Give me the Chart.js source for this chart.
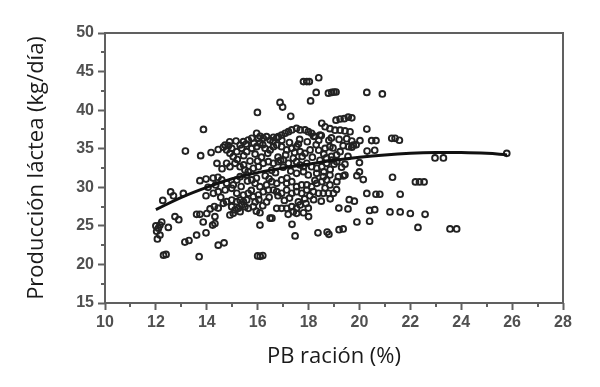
<!DOCTYPE html>
<html>
<head>
<meta charset="utf-8">
<script src="https://cdn.jsdelivr.net/npm/chart.js@4.4.1/dist/chart.umd.min.js"></script>
<style>
  html, body { margin: 0; padding: 0; background: #ffffff; }
  #c { display: block; }
</style>
</head>
<body>
<canvas id="c" width="600" height="387"></canvas>
<script>
// ---- data ----
const xTitle = 'PB ración (%)';
const yTitle = 'Producción láctea (kg/día)';

const proteinPct = [
  // top / isolated
  17.8,17.93,18.03,18.4,18.3,18.08,18.78,18.91,19.0,19.08,20.29,20.9,16.88,16.98,15.99,17.3,13.87,13.16,13.76,14.17,
  // upper right cluster
  19.08,19.24,19.4,19.56,19.7,18.52,18.65,18.84,19.04,19.24,19.43,19.63,20.29,20.48,20.65,21.27,21.4,21.57,20.02,19.87,20.6,20.3,19.43,20.0,21.3,20.0,19.9,20.15,22.2,22.36,22.54,22.97,23.3,25.79,
  // lower right
  20.29,20.65,20.8,21.6,19.8,19.19,19.55,20.4,20.6,21.2,21.6,22.0,22.58,19.9,20.4,22.3,23.56,23.82,19.2,19.36,18.37,18.73,18.8,17.47,17.35,18.0,17.99,16.49,16.09,16.09,16.35,16.56,19.6,
  // lower left
  16.0,16.1,16.2,13.7,12.3,12.4,13.14,13.3,13.6,13.97,14.45,14.68,12.06,12.16,12.1,12.16,12.23,12.03,12.0,12.49,12.75,12.9,12.27,12.58,12.69,13.08,13.86,13.6,13.73,14.0,14.23,14.32,13.97,14.13,14.3,14.45,14.32,
  // upper part of the main cloud
  13.73,13.97,14.25,14.44,14.45,14.65,14.85,14.72,14.98,15.31,15.44,15.63,15.77,15.96,16.03,16.1,16.22,16.35,16.49,16.62,16.75,16.81,16.94,17.08,17.21,17.34,17.53,17.67,17.86,17.99,18.12,18.25,18.4,18.45,18.2,18.5,18.9,19.2,19.5,19.7,18.96,19.36,19.7,18.45,18.7,18.9,19.1,18.4,
  // band 34-35.5
  14.78,14.91,15.04,15.18,15.37,15.57,15.77,15.96,16.09,16.29,16.49,16.62,16.75,16.94,17.14,17.34,17.53,17.67,17.86,18.06,18.65,18.84,19.24,19.57,19.76,
  // band 31.5-34
  14.78,14.91,15.11,15.31,15.5,15.63,15.83,16.03,16.22,16.42,16.62,16.81,17.01,17.21,17.4,17.53,17.67,17.8,17.93,18.12,18.32,18.52,18.71,18.91,19.11,17.53,17.8,17.99,18.32,18.58,18.84,19.17,19.43,16.8,17.1,16.9,
  // band 30-31.5
  14.59,14.78,15.04,15.18,15.31,15.57,15.77,15.9,16.09,16.35,16.55,16.75,16.94,17.14,17.34,17.53,17.73,17.93,18.12,18.32,18.52,18.71,18.84,19.11,19.37,
  // band 28.5-30
  14.26,14.45,14.72,14.98,15.18,15.44,15.63,15.83,16.03,16.22,16.42,16.62,16.75,16.94,17.14,17.34,17.53,17.73,17.93,18.19,18.39,18.58,18.78,18.98,
  // band 26.5-28.5
  14.65,14.78,14.98,15.18,15.31,15.44,15.57,14.98,15.11,15.24,15.37,15.5,15.63,15.83,15.04,14.91,15.31,16.75,16.94,17.14,17.34,17.53,17.67,17.4,17.53,17.2,17.8,
  // dense centre (overlapping marks)
  15.2,15.45,15.7,15.9,16.15,16.4,16.55,16.7,16.3,15.95,15.6,15.35,15.75,16.05,16.45,16.8,17.05,17.25,17.6,17.85,18.05,18.25,18.6,18.15,17.75,17.45,17.25,16.95,17.65,17.95,18.3,17.0,17.3,16.6,15.85,15.15,14.9,15.55,16.2,18.6,19.0,19.3,19.55,18.85,17.15,16.45,15.45,14.6,14.4,14.35,14.05,14.55,15.9,16.2,15.95,17.9,18.2,18.5,18.85,19.1,18.65,16.0,17.6,18.8
];

const milkYield = [
  43.7,43.7,43.7,44.2,42.3,41.2,42.2,42.3,42.35,42.35,42.3,42.1,41.0,40.4,39.7,39.2,37.5,34.7,34.1,34.5,
  38.7,38.85,38.9,39.1,39.0,38.3,37.85,37.6,37.4,37.4,37.3,37.2,37.55,36.05,36.05,36.35,36.35,36.1,36.05,35.5,34.8,34.7,33.0,33.2,31.3,32.0,31.5,31.0,30.7,30.7,30.7,33.8,33.8,34.4,
  29.2,29.1,29.1,29.1,28.2,27.3,27.2,27.0,27.1,26.8,26.8,26.6,26.5,25.5,25.6,24.8,24.6,24.6,24.5,24.6,24.1,24.2,23.9,23.7,25.2,26.2,27.3,26.0,25.1,26.7,28.1,26.0,28.4,
  21.1,21.05,21.15,21.0,21.2,21.3,22.9,23.1,23.8,24.1,22.5,22.8,23.3,23.8,24.7,25.1,25.5,24.3,25.0,24.8,26.2,25.8,28.3,29.4,28.9,29.2,25.5,26.5,26.5,26.6,25.1,25.3,28.9,27.2,27.5,27.3,26.2,
  30.86,31.07,31.2,31.3,34.9,35.2,35.4,35.48,35.05,35.48,35.92,36.13,36.35,37.0,36.35,36.6,36.35,36.56,36.13,36.48,36.4,36.56,36.78,37.0,37.21,37.43,37.64,37.43,37.43,37.21,37.0,36.6,36.1,36.78,36.6,36.7,36.4,36.2,36.3,36.0,35.1,35.4,35.2,33.5,33.8,34.0,34.2,34.8,
  34.84,34.4,33.97,34.62,35.05,34.62,35.05,35.27,35.7,35.05,34.84,35.27,35.48,35.27,34.84,35.05,35.27,34.62,34.4,34.84,35.05,35.27,34.62,35.27,35.48,
  33.11,32.67,33.11,32.67,32.24,32.03,32.46,32.67,33.11,33.32,33.11,33.32,33.54,33.11,33.76,33.32,32.89,32.67,33.11,32.67,32.46,32.67,33.11,33.54,33.32,31.81,32.03,31.59,31.81,31.38,31.59,31.38,31.59,33.9,34.2,33.5,
  30.95,30.51,30.3,30.95,31.38,31.59,30.95,30.51,30.08,30.3,30.73,30.51,30.95,30.51,30.73,30.08,30.3,30.3,30.08,30.51,30.73,30.95,30.3,30.73,31.46,
  29.22,29.43,29.65,29.87,29.22,29.0,29.22,28.79,29.0,29.43,29.65,29.65,29.43,29.22,29.65,29.22,29.43,29.22,29.65,29.43,29.22,29.22,29.22,29.22,
  27.92,28.14,28.35,28.14,28.35,28.14,28.35,27.49,27.06,27.27,27.71,27.49,27.27,27.49,26.62,26.41,26.84,27.27,27.27,27.27,27.49,27.27,27.71,26.84,26.62,26.5,26.7,
  33.6,34.1,33.4,34.3,33.9,34.4,32.2,31.9,31.5,31.2,30.8,30.1,29.6,28.4,28.7,28.9,28.3,28.6,28.1,28.5,28.9,30.9,32.0,33.9,34.0,34.5,35.8,36.1,36.2,35.9,35.5,32.6,32.1,35.9,35.7,36.0,35.9,35.6,35.5,34.3,33.0,32.6,34.0,32.3,31.2,31.1,32.9,32.4,33.1,30.3,30.0,28.7,28.1,27.6,26.9,27.9,28.4,28.2,28.5,29.7,29.9,33.4,35.6,36.1
];

// fitted curve, read at several x positions
const fitX = [12, 13, 14, 15, 16, 17, 18, 19, 20, 21, 22, 23, 24, 25, 25.8];
const fitY = [27.1, 28.7, 30.0, 31.1, 31.9, 32.5, 33.0, 33.5, 33.9, 34.2, 34.4, 34.5, 34.5, 34.4, 34.2];

const xMinorTicks = [11, 13, 15, 17, 19, 21, 23, 25, 27];
const yMinorTicks = [17.5, 22.5, 27.5, 32.5, 37.5, 42.5, 47.5];

// ---- styling ----
const axisColor = '#606060';
const tickFont = { family: 'Liberation Sans', weight: 'bold', size: 16 };
const titleFont = { family: 'Open Sans', size: 22 };

const frameAndMinorTicks = {
  id: 'frameAndMinorTicks',
  afterDraw(chart) {
    const { ctx, chartArea: a, scales: { x, y } } = chart;
    ctx.save();
    ctx.strokeStyle = axisColor;
    ctx.lineWidth = 2;
    ctx.strokeRect(a.left, a.top, a.right - a.left, a.bottom - a.top);
    ctx.beginPath();
    xMinorTicks.forEach(v => {
      const px = Math.round(x.getPixelForValue(v));
      ctx.moveTo(px, a.bottom);
      ctx.lineTo(px, a.bottom + 4);
    });
    yMinorTicks.forEach(v => {
      const py = Math.round(y.getPixelForValue(v));
      ctx.moveTo(a.left, py);
      ctx.lineTo(a.left - 4, py);
    });
    ctx.stroke();
    ctx.restore();
  }
};

new Chart(document.getElementById('c'), {
  type: 'scatter',
  data: {
    datasets: [
      {
        type: 'line',
        data: fitX.map((v, i) => ({ x: v, y: fitY[i] })),
        borderColor: '#111111',
        borderWidth: 3,
        pointRadius: 0,
        tension: 0.4,
        fill: false,
        order: 0
      },
      {
        data: proteinPct.map((v, i) => ({ x: v, y: milkYield[i] })),
        pointRadius: 2.9,
        borderWidth: 1.9,
        borderColor: '#222222',
        backgroundColor: 'rgba(255,255,255,0)',
        order: 1
      }
    ]
  },
  options: {
    responsive: false,
    animation: false,
    layout: { padding: { top: 33, right: 37, left: 0, bottom: 0 } },
    plugins: { legend: { display: false }, tooltip: { enabled: false } },
    scales: {
      x: {
        type: 'linear', min: 10, max: 28,
        ticks: { stepSize: 2, color: '#505050', font: tickFont, padding: 3 },
        grid: { drawOnChartArea: false, tickLength: 7, tickColor: axisColor, tickWidth: 2 },
        border: { display: false },
        title: { display: true, text: xTitle, color: '#1a1a1a', font: titleFont, padding: { top: 6, bottom: 17 } },
        afterFit: s => { s.height = 84; }
      },
      y: {
        type: 'linear', min: 15, max: 50,
        ticks: { stepSize: 5, color: '#505050', font: tickFont, padding: 4 },
        grid: { drawOnChartArea: false, tickLength: 7, tickColor: axisColor, tickWidth: 2 },
        border: { display: false },
        title: { display: true, text: yTitle, color: '#1a1a1a', font: titleFont, padding: { top: 24, bottom: 0 } },
        afterFit: s => { s.width = 105; }
      }
    }
  },
  plugins: [frameAndMinorTicks]
});
</script>
</body>
</html>
